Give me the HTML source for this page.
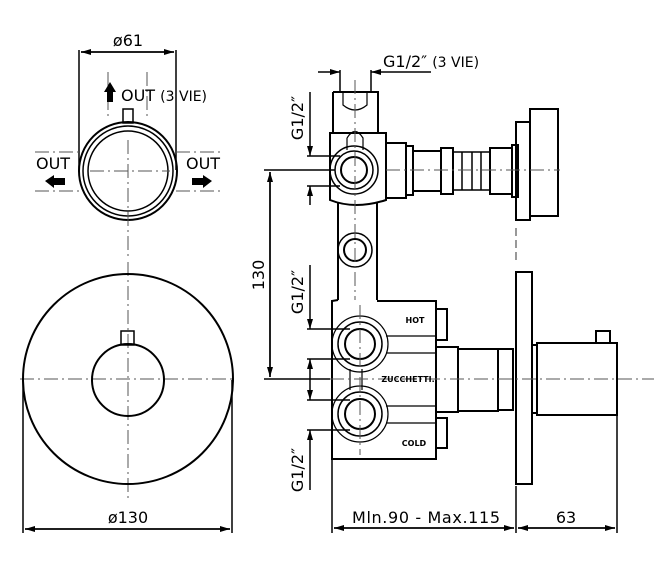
<!DOCTYPE html>
<html><head><style>body{margin:0;background:#fff}svg{display:block}text{font-family:"DejaVu Sans","Liberation Sans",sans-serif;fill:#000}</style></head>
<body>
<svg width="654" height="580" viewBox="0 0 654 580" xmlns="http://www.w3.org/2000/svg">
<defs>
<marker id="a" markerWidth="10" markerHeight="6" refX="10" refY="3" orient="auto" markerUnits="userSpaceOnUse"><path d="M0,0 L10,3 L0,6z" fill="#000"/></marker>
</defs>
<g stroke="#000" fill="none" stroke-width="2">
<line x1="79" y1="50" x2="79" y2="170" stroke-width="1.5"/>
<line x1="176" y1="50" x2="176" y2="170" stroke-width="1.5"/>
<line x1="81" y1="52" x2="174" y2="52" stroke-width="1.5" marker-end="url(#a)"/>
<line x1="174" y1="52" x2="81" y2="52" stroke-width="1.5" marker-end="url(#a)"/>
<circle cx="128" cy="171" r="49"/>
<circle cx="128" cy="171" r="45" stroke-width="1.5"/>
<circle cx="128" cy="171" r="40" stroke-width="1.5"/>
<rect x="123" y="109" width="10" height="14" stroke-width="1.5"/>
<g stroke="#555" stroke-width="1" stroke-dasharray="14,4,2,4">
<line x1="128" y1="140" x2="128" y2="260"/>
<line x1="90" y1="171" x2="170" y2="171"/>
<line x1="108" y1="72" x2="108" y2="118"/><line x1="147" y1="72" x2="147" y2="118"/>
<line x1="35" y1="152" x2="79" y2="152"/><line x1="176" y1="152" x2="220" y2="152"/>
<line x1="35" y1="191" x2="79" y2="191"/><line x1="176" y1="191" x2="220" y2="191"/>
<line x1="128" y1="262" x2="128" y2="500"/>
<line x1="20" y1="379" x2="236" y2="379"/>
</g>
<circle cx="128" cy="379" r="105"/>
<circle cx="128" cy="380" r="36"/>
<rect x="121" y="331" width="13" height="14" stroke-width="1.5"/>
<line x1="23" y1="380" x2="23" y2="533" stroke-width="1.5"/>
<line x1="232" y1="380" x2="232" y2="533" stroke-width="1.5"/>
<line x1="25" y1="529" x2="230" y2="529" stroke-width="1.5" marker-end="url(#a)"/>
<line x1="230" y1="529" x2="25" y2="529" stroke-width="1.5" marker-end="url(#a)"/>

<line x1="318" y1="72" x2="340" y2="72" stroke-width="1.5" marker-end="url(#a)"/>
<line x1="431" y1="72" x2="371" y2="72" stroke-width="1.5" marker-end="url(#a)"/>
<line x1="340" y1="70" x2="340" y2="92" stroke-width="1.5"/>
<line x1="371" y1="70" x2="371" y2="92" stroke-width="1.5"/>
<path d="M333,92 H378 V133 M333,92 V133"/>
<path d="M343,92 V105 Q355,115 367,105 V92" stroke-width="1.2"/>
<path d="M347,138 Q355,125 363,138 V150 M347,138 V150" stroke-width="1.2"/>
<path d="M330,133 H386 V200 Q355,210 330,200 Z"/>
<circle cx="354" cy="170" r="24" stroke-width="1.5"/>
<circle cx="354" cy="170" r="19" stroke-width="1.5"/>
<circle cx="354" cy="170" r="13"/>
<path d="M338,203 V300 M377,203 V300"/>
<circle cx="355" cy="250" r="17" stroke-width="1.5"/>
<circle cx="355" cy="250" r="11"/>
<rect x="386" y="143" width="20" height="55"/>
<rect x="406" y="146" width="7" height="49"/>
<rect x="413" y="151" width="28" height="40"/>
<rect x="441" y="148" width="12" height="46"/>
<path d="M453,152 H490 V190 H453 M462,152 V190 M472,152 V190 M481,152 V190" stroke-width="1.5"/>
<rect x="490" y="148" width="22" height="46"/>
<rect x="512" y="145" width="6" height="52"/>
<rect x="516" y="122" width="14" height="98"/>
<rect x="530" y="109" width="28" height="107"/>
<line x1="516" y1="228" x2="516" y2="262" stroke="#555" stroke-width="1.2" stroke-dasharray="8,4"/>
<path d="M338,300 L332,301 V459 H436 V301 H377" />
<circle cx="360" cy="344" r="28" stroke-width="1.2"/>
<circle cx="360" cy="344" r="22" stroke-width="1.5"/>
<circle cx="360" cy="344" r="15"/>
<circle cx="360" cy="414" r="28" stroke-width="1.2"/>
<circle cx="360" cy="414" r="22" stroke-width="1.5"/>
<circle cx="360" cy="414" r="15"/>
<path d="M350,369 V390 M362,369 V390" stroke-width="1.2"/>
<line x1="386" y1="336" x2="436" y2="336" stroke-width="1.2"/>
<line x1="386" y1="353" x2="436" y2="353" stroke-width="1.2"/>
<line x1="386" y1="406" x2="436" y2="406" stroke-width="1.2"/>
<line x1="386" y1="423" x2="436" y2="423" stroke-width="1.2"/>
<rect x="436" y="309" width="11" height="31"/>
<rect x="436" y="418" width="11" height="30"/>
<rect x="436" y="347" width="22" height="65"/>
<rect x="458" y="349" width="40" height="62"/>
<rect x="498" y="349" width="15" height="61"/>
<rect x="516" y="272" width="16" height="212"/>
<rect x="532" y="345" width="5" height="68"/>
<rect x="537" y="343" width="80" height="72"/>
<rect x="596" y="331" width="14" height="12"/>
<g stroke-width="1.5">
<line x1="307" y1="156" x2="340" y2="156"/><line x1="307" y1="186" x2="340" y2="186"/>
<line x1="310" y1="92" x2="310" y2="156" marker-end="url(#a)"/>
<line x1="310" y1="205" x2="310" y2="186" marker-end="url(#a)"/>
<line x1="264" y1="170" x2="335" y2="170"/><line x1="264" y1="379" x2="330" y2="379"/>
<line x1="270" y1="172" x2="270" y2="377" marker-end="url(#a)"/>
<line x1="270" y1="377" x2="270" y2="172" marker-end="url(#a)"/>
<line x1="307" y1="329" x2="350" y2="329"/><line x1="307" y1="359" x2="350" y2="359"/>
<line x1="307" y1="400" x2="350" y2="400"/><line x1="307" y1="430" x2="350" y2="430"/>
<line x1="310" y1="265" x2="310" y2="329" marker-end="url(#a)"/>
<line x1="310" y1="379" x2="310" y2="359" marker-end="url(#a)"/>
<line x1="310" y1="379" x2="310" y2="400" marker-end="url(#a)"/>
<line x1="310" y1="490" x2="310" y2="430" marker-end="url(#a)"/>
<line x1="332" y1="459" x2="332" y2="533"/>
<line x1="516" y1="486" x2="516" y2="533"/>
<line x1="617" y1="415" x2="617" y2="533"/>
<line x1="334" y1="528" x2="514" y2="528" marker-end="url(#a)"/>
<line x1="514" y1="528" x2="334" y2="528" marker-end="url(#a)"/>
<line x1="518" y1="528" x2="615" y2="528" marker-end="url(#a)"/>
<line x1="615" y1="528" x2="518" y2="528" marker-end="url(#a)"/>
</g>
<g stroke="#555" stroke-width="1" stroke-dasharray="14,4,2,4">
<line x1="330" y1="379" x2="654" y2="379"/>
<line x1="355" y1="80" x2="355" y2="300"/>
<line x1="360" y1="305" x2="360" y2="455"/>
<line x1="386" y1="170" x2="560" y2="170"/>
</g>
</g>
<path d="M104,92 L110,82 L116,92 L113,92 L113,102 L107,102 L107,92Z" fill="#000"/>
<path d="M45,181 L54,175 L54,178 L65,178 L65,185 L54,185 L54,188Z" fill="#000"/>
<path d="M212,181 L203,175 L203,178 L192,178 L192,185 L203,185 L203,188Z" fill="#000"/>
<g font-size="16">
<text x="128" y="46" text-anchor="middle">ø61</text>
<text x="121" y="101">OUT <tspan font-size="14">(3 VIE)</tspan></text>
<text x="36" y="169">OUT</text>
<text x="186" y="169">OUT</text>
<text x="128" y="523" text-anchor="middle">ø130</text>
<text x="383" y="67">G1/2″ <tspan font-size="14">(3 VIE)</tspan></text>
<text transform="translate(303,118) rotate(-90)" text-anchor="middle">G1/2″</text>
<text transform="translate(264,275) rotate(-90)" text-anchor="middle">130</text>
<text transform="translate(303,292) rotate(-90)" text-anchor="middle">G1/2″</text>
<text transform="translate(303,470) rotate(-90)" text-anchor="middle">G1/2″</text>
<text x="426" y="523" text-anchor="middle" textLength="148">Mln.90 - Max.115</text>
<text x="566" y="523" text-anchor="middle">63</text>
</g>
<g font-size="8" font-weight="bold">
<text x="415" y="323" text-anchor="middle">HOT</text>
<text x="408" y="382" text-anchor="middle">ZUCCHETTI.</text>
<text x="414" y="446" text-anchor="middle">COLD</text>
</g>
</svg>
</body></html>
